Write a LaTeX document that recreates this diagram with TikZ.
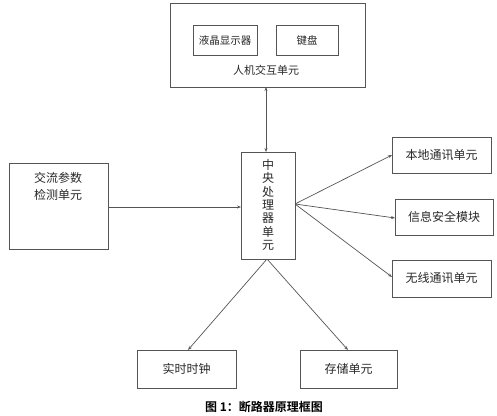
\documentclass[tikz,border=0pt]{standalone}
\usepackage{fontspec}
\setmainfont{Noto Sans CJK SC}
\newfontfamily\capfont{Noto Sans CJK SC}[BoldFont={* Bold}]
\usetikzlibrary{arrows.meta}
\definecolor{linegray}{RGB}{85,85,85}
\definecolor{textgray}{RGB}{40,40,40}
\tikzset{
  box/.style={draw=linegray, line width=0.8pt},
  lbl/.style={inner sep=0pt, text=textgray, font=\fontsize{12}{14}\selectfont},
  small/.style={inner sep=0pt, text=textgray, font=\fontsize{10.5}{12}\selectfont},
  conn/.style={draw=linegray, line width=0.7pt, -{Stealth[length=4pt,width=3pt]}},
}
\begin{document}
\begin{tikzpicture}[x=1pt,y=-1pt]
\useasboundingbox (0,0) rectangle (497,415);
% top unit
\draw[box] (170,3) rectangle (365,87);
\draw[box] (193,25) rectangle (257,55);
\draw[box] (276,25) rectangle (338,55);
\node[small] (lcd) at (225,40) {液晶显示器};
\node[small] (kbd) at (307,40) {键盘};
\node[small, font=\fontsize{11}{13}\selectfont] (hmi) at (266,70) {人机交互单元};
\coordinate (hmiB) at (266,87);
% CPU
\draw[box] (241,152) rectangle (295,259);
\node[lbl, align=center, font=\fontsize{12}{13.3}\selectfont] (cpu) at (268,205) {中\\央\\处\\理\\器\\单\\元};
\coordinate (cpuT) at (266,152);
\coordinate (cpuL) at (241,207);
\coordinate (cpuR) at (295,204);
\coordinate (cpuB) at (267,259);
% left
\draw[box] (9,163) rectangle (108,249);
\node[lbl, align=center, font=\fontsize{12}{17}\selectfont] (ac) at (58,186) {交流参数\\检测单元};
\coordinate (acR) at (108,207);
% right boxes
\draw[box] (392,137) rectangle (491,173);
\node[lbl] (loc) at (441.5,155) {本地通讯单元};
\coordinate (locL) at (392,155);
\draw[box] (395,199) rectangle (493,235);
\node[lbl] (sec) at (444,217) {信息安全模块};
\coordinate (secL) at (395,218);
\draw[box] (392,260) rectangle (491,297);
\node[lbl] (wl) at (441.5,278) {无线通讯单元};
\coordinate (wlL) at (392,277);
% bottom boxes
\draw[box] (137,350) rectangle (236,388);
\node[lbl] (rtc) at (186.5,369) {实时时钟};
\coordinate (rtcT) at (188,350);
\draw[box] (300,350) rectangle (397,388);
\node[lbl] (mem) at (348.5,369) {存储单元};
\coordinate (memT) at (348,350);
% connectors
\draw[conn, {Stealth[length=4pt,width=3pt]}-{Stealth[length=4pt,width=3pt]}] (hmiB) -- (cpuT);
\draw[conn] (acR) -- (cpuL);
\draw[conn] (cpuR) -- (locL);
\draw[conn] (cpuR) -- (secL);
\draw[conn] (cpuR) -- (wlL);
\draw[conn] (cpuB) -- (rtcT);
\draw[conn] (cpuB) -- (memT);
% caption
\node[inner sep=0pt, font=\capfont\bfseries\fontsize{12}{14}\selectfont] (cap) at (264,407) {图 1：断路器原理框图};
\end{tikzpicture}
\end{document}
